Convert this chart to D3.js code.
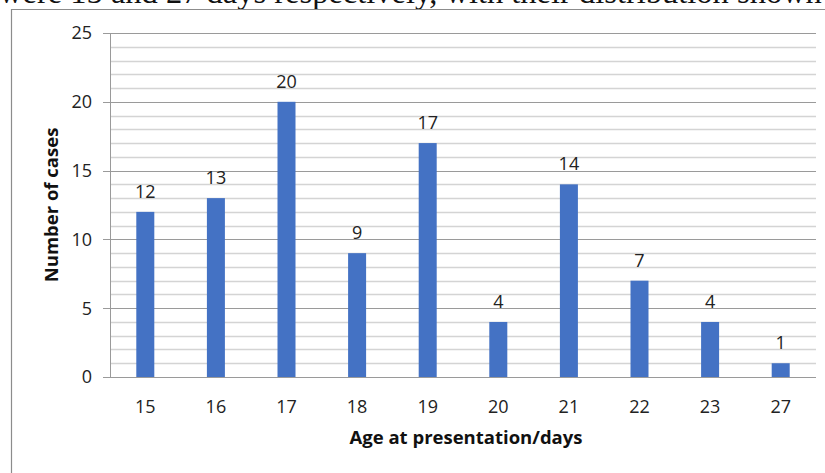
<!DOCTYPE html>
<html>
<head>
  <meta charset="utf-8">
  <style>
    body { margin: 0; background: #fff; }
    svg { display: block; }
    .tick-label { font-family: "Open Sans", sans-serif; font-size: 18px; fill: #222; }
    .bar-label { font-family: "Open Sans", sans-serif; font-size: 18px; fill: #222; text-anchor: middle; }
    .title { font-family: "Open Sans", sans-serif; font-size: 18.5px; font-weight: bold; fill: #111; text-anchor: middle; }
  </style>
  <script src="https://d3js.org/d3.v7.min.js"></script>
</head>
<body>
  <script>
    // ages at presentation and number of cases
    const ages = ['15', '16', '17', '18', '19', '20', '21', '22', '23', '27'];
    const cases = [12, 13, 20, 9, 17, 4, 14, 7, 4, 1];
    const yTicks = [0, 5, 10, 15, 20, 25];

    const width = 825, height = 473;
    const margin = { top: 33, right: 9, bottom: 96, left: 110 };

    const svg = d3.select('body').append('svg')
      .attr('width', width)
      .attr('height', height);

    // cut-off text line from the page above the chart
    svg.append('text')
      .attr('x', -1)
      .attr('y', 3)
      .style('font-family', '"Liberation Serif", serif')
      .style('font-size', '32.5px')
      .style('fill', '#111')
      .text('were 15 and 27 days respectively, with their distribution shown');

    // chart frame
    svg.append('path')
      .attr('d', `M11.5,${height} V9.5 H${width}`)
      .attr('fill', 'none')
      .attr('stroke', '#8c8c8c')
      .attr('stroke-width', 1.2);

    const x = d3.scaleBand()
      .domain(ages)
      .range([margin.left, width - margin.right])
      .paddingInner(0.745)
      .paddingOuter(0.3725);

    const y = d3.scaleLinear()
      .domain([0, 25])
      .range([height - margin.bottom, margin.top]);

    const plotLeft = margin.left, plotRight = width - margin.right;

    // minor gridlines
    svg.append('g').selectAll('line')
      .data(d3.range(0, 26).filter(v => v % 5 !== 0))
      .join('line')
      .attr('x1', plotLeft).attr('x2', plotRight)
      .attr('y1', d => Math.round(y(d)) + 0.5)
      .attr('y2', d => Math.round(y(d)) + 0.5)
      .attr('stroke', '#d4d4d4')
      .attr('stroke-width', 1.5);

    // major gridlines with ticks
    svg.append('g').selectAll('line')
      .data(yTicks)
      .join('line')
      .attr('x1', plotLeft - 7).attr('x2', plotRight)
      .attr('y1', d => Math.round(y(d)) + 0.5)
      .attr('y2', d => Math.round(y(d)) + 0.5)
      .attr('stroke', '#9a9a9a')
      .attr('stroke-width', 1.2);

    // y axis line
    svg.append('line')
      .attr('x1', plotLeft + 0.5).attr('x2', plotLeft + 0.5)
      .attr('y1', y(25)).attr('y2', y(0))
      .attr('stroke', '#9a9a9a');

    // y tick labels
    svg.append('g').selectAll('text')
      .data(yTicks)
      .join('text')
      .attr('class', 'tick-label')
      .attr('x', 92)
      .attr('y', d => y(d))
      .attr('dy', '0.35em')
      .attr('text-anchor', 'end')
      .text(d => d);

    // bars
    svg.append('g').selectAll('rect')
      .data(cases)
      .join('rect')
      .attr('x', (d, i) => x(ages[i]))
      .attr('width', x.bandwidth())
      .attr('y', d => y(d))
      .attr('height', d => y(0) - y(d))
      .attr('fill', '#4472C4');

    // value labels
    svg.append('g').selectAll('text')
      .data(cases)
      .join('text')
      .attr('class', 'bar-label')
      .attr('x', (d, i) => x(ages[i]) + x.bandwidth() / 2)
      .attr('y', d => y(d) - 14)
      .text(d => d);

    // x tick labels
    svg.append('g').selectAll('text')
      .data(ages)
      .join('text')
      .attr('class', 'tick-label')
      .attr('x', d => x(d) + x.bandwidth() / 2)
      .attr('y', 413)
      .attr('text-anchor', 'middle')
      .text(d => d);

    // axis titles
    svg.append('text')
      .attr('class', 'title')
      .attr('x', 466)
      .attr('y', 444)
      .text('Age at presentation/days');

    svg.append('text')
      .attr('class', 'title')
      .attr('transform', 'translate(58,205) rotate(-90)')
      .text('Number of cases');
  </script>
</body>
</html>
